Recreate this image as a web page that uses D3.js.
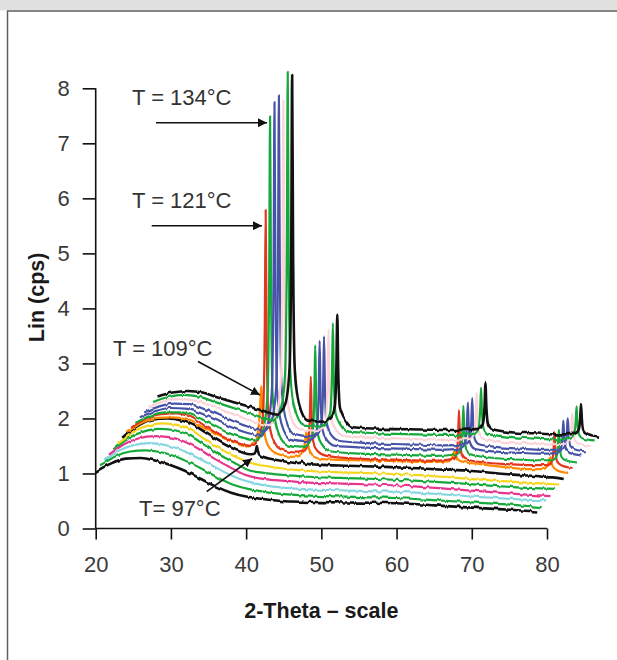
<!DOCTYPE html>
<html>
<head>
<meta charset="utf-8">
<script src="https://cdn.jsdelivr.net/npm/d3@7"></script>
<style>
  html, body { margin: 0; padding: 0; background: #fff; }
  svg { display: block; }
  text { font-family: "Liberation Sans", Arial, Helvetica, sans-serif; }
</style>
</head>
<body>
<svg id="chart" width="617" height="660"></svg>
<script>
// 2-Theta positions (degrees) of the sampled points
const thetaAmorphous = [20, 21, 22, 24, 26, 28, 30, 32, 34, 36, 38, 40, 42, 44, 46, 50, 55, 60, 65, 70, 75, 78.7];
const thetaCrystal = [20, 22, 24, 26, 28, 30, 32, 34, 36,
  37.0, 37.55, 37.78, 37.9, 38.02, 38.25, 38.8,
  40, 42,
  43.0, 43.55, 43.78, 43.9, 44.02, 44.25, 44.8,
  46, 50, 55, 60,
  62.7, 63.25, 63.48, 63.6, 63.72, 63.95, 64.5,
  67, 70, 73,
  75.4, 75.95, 76.18, 76.3, 76.42, 76.65, 77.2,
  78.7];

// Intensity (Lin, cps) of each scan, lowest temperature first
const scan01 = [1.03, 1.11, 1.18, 1.27, 1.28, 1.23, 1.15, 1.04, 0.90, 0.76, 0.65, 0.58, 0.54, 0.51, 0.49, 0.48, 0.47, 0.46, 0.42, 0.38, 0.34, 0.31];
const scan02 = [1.05, 1.13, 1.21, 1.30, 1.32, 1.29, 1.21, 1.09, 0.95, 0.80, 0.68, 0.61, 0.56, 0.53, 0.51, 0.49, 0.47, 0.45, 0.41, 0.37, 0.33, 0.29];
const scan03 = [1.04, 1.13, 1.22, 1.32, 1.35, 1.32, 1.24, 1.11, 0.97, 0.82, 0.70, 0.62, 0.57, 0.54, 0.52, 0.50, 0.48, 0.46, 0.42, 0.37, 0.33, 0.31];
const scan04 = [1.04, 1.14, 1.23, 1.34, 1.38, 1.36, 1.28, 1.14, 0.97, 0.82, 0.68, 0.61, 0.58, 0.56, 0.54, 0.52, 0.50, 0.47, 0.42, 0.37, 0.32, 0.29];
const scan05 = [1.04, 1.14, 1.24, 1.36, 1.41, 1.39, 1.30, 1.13, 0.95, 0.80, 0.66, 0.61, 0.58, 0.56, 0.54, 0.52, 0.50, 0.47, 0.43, 0.38, 0.34, 0.32];
const scan06 = [1.04, 1.14, 1.25, 1.37, 1.41, 1.38, 1.27, 1.08, 0.92, 0.78, 0.68, 0.63, 0.59, 0.56, 0.54, 0.52, 0.50, 0.47, 0.42, 0.37, 0.33, 0.30];
const scan07 = [1.05, 1.26, 1.38, 1.40, 1.36, 1.24, 1.06, 0.90, 0.78,
  0.75, 0.76, 0.82, 0.90, 0.82, 0.74, 0.70, 0.66, 0.61,
  0.59, 0.59, 0.60, 0.61, 0.60, 0.58, 0.57, 0.56, 0.54, 0.52, 0.49,
  0.47, 0.47, 0.47, 0.48, 0.47, 0.46, 0.46, 0.44, 0.40, 0.37,
  0.35, 0.34, 0.34, 0.35, 0.34, 0.33, 0.33, 0.30];
const scan08 = [1.04, 1.22, 1.31, 1.32, 1.28, 1.15, 1.00, 0.88, 0.79,
  0.86, 1.14, 1.60, 1.89, 1.57, 1.11, 0.81, 0.66, 0.60,
  0.62, 0.74, 0.94, 1.06, 0.93, 0.73, 0.61, 0.56, 0.54, 0.53, 0.51,
  0.52, 0.58, 0.66, 0.72, 0.66, 0.57, 0.52, 0.47, 0.42, 0.38,
  0.38, 0.44, 0.54, 0.60, 0.53, 0.43, 0.36, 0.31];
const scan09 = [1.03, 1.20, 1.28, 1.29, 1.22, 1.05, 0.88, 0.76, 0.70,
  0.85, 1.28, 2.84, 4.99, 2.84, 1.28, 0.85, 0.63, 0.58,
  0.61, 0.75, 1.26, 1.96, 1.26, 0.75, 0.61, 0.52, 0.47, 0.45, 0.43,
  0.46, 0.55, 0.89, 1.35, 0.89, 0.55, 0.46, 0.40, 0.37, 0.35,
  0.35, 0.42, 0.64, 0.95, 0.64, 0.42, 0.35, 0.30];
const scan10 = [1.02, 1.15, 1.21, 1.21, 1.14, 1.00, 0.86, 0.76, 0.70,
  0.91, 1.50, 3.64, 6.61, 3.64, 1.50, 0.91, 0.62, 0.57,
  0.63, 0.81, 1.49, 2.43, 1.49, 0.81, 0.63, 0.50, 0.46, 0.44, 0.42,
  0.45, 0.54, 0.87, 1.33, 0.87, 0.54, 0.45, 0.39, 0.36, 0.34,
  0.34, 0.40, 0.62, 0.91, 0.62, 0.40, 0.34, 0.30];
const scan11 = [1.02, 1.13, 1.19, 1.18, 1.10, 0.98, 0.85, 0.75, 0.69,
  0.90, 1.51, 3.70, 6.73, 3.70, 1.51, 0.90, 0.61, 0.57,
  0.62, 0.81, 1.48, 2.41, 1.48, 0.81, 0.62, 0.50, 0.47, 0.45, 0.43,
  0.45, 0.54, 0.85, 1.28, 0.85, 0.54, 0.45, 0.40, 0.38, 0.36,
  0.37, 0.44, 0.66, 0.96, 0.66, 0.44, 0.37, 0.33];
const scan12 = [1.01, 1.12, 1.17, 1.16, 1.07, 0.96, 0.84, 0.74, 0.68,
  0.89, 1.51, 3.71, 6.77, 3.71, 1.51, 0.89, 0.60, 0.56,
  0.61, 0.80, 1.47, 2.39, 1.47, 0.80, 0.61, 0.49, 0.45, 0.43, 0.41,
  0.43, 0.52, 0.84, 1.27, 0.84, 0.52, 0.43, 0.38, 0.35, 0.33,
  0.34, 0.40, 0.61, 0.90, 0.61, 0.40, 0.34, 0.30];
const scan13 = [1.01, 1.11, 1.15, 1.13, 1.05, 0.94, 0.84, 0.74, 0.68,
  0.88, 1.47, 3.61, 6.57, 3.61, 1.47, 0.88, 0.59, 0.56,
  0.62, 0.80, 1.48, 2.42, 1.48, 0.80, 0.62, 0.48, 0.45, 0.43, 0.41,
  0.43, 0.52, 0.83, 1.26, 0.83, 0.52, 0.43, 0.38, 0.35, 0.33,
  0.34, 0.40, 0.60, 0.88, 0.60, 0.40, 0.34, 0.30];
const scan14 = [1.00, 1.09, 1.13, 1.10, 1.01, 0.92, 0.83, 0.74, 0.67,
  0.88, 1.52, 3.82, 7.00, 3.82, 1.52, 0.88, 0.57, 0.55,
  0.61, 0.80, 1.49, 2.45, 1.49, 0.80, 0.61, 0.46, 0.43, 0.41, 0.40,
  0.42, 0.51, 0.83, 1.26, 0.83, 0.51, 0.42, 0.37, 0.34, 0.32,
  0.33, 0.40, 0.62, 0.92, 0.62, 0.40, 0.33, 0.30];
const scan15 = [1.00, 1.07, 1.10, 1.07, 0.98, 0.90, 0.82, 0.74, 0.67,
  0.87, 1.49, 3.73, 6.84, 3.73, 1.49, 0.87, 0.56, 0.54,
  0.60, 0.80, 1.51, 2.49, 1.51, 0.80, 0.60, 0.44, 0.41, 0.40, 0.39,
  0.41, 0.50, 0.81, 1.24, 0.81, 0.50, 0.41, 0.35, 0.33, 0.31,
  0.32, 0.38, 0.58, 0.86, 0.58, 0.38, 0.32, 0.27];

const scanColors = ["#111111", "#15a83a", "#86d6e2", "#e8358e", "#15a83a", "#f6d61c", "#111111",
  "#ff8a00", "#e4361b", "#15a83a", "#4653a6", "#4653a6", "#fcd3d6", "#15a83a", "#111111"];

// Waterfall offset between consecutive scans
const stepTheta = 0.587;
const stepLin = 0.1;

const yTicks = [0, 1, 2, 3, 4, 5, 6, 7, 8];
const yMinorTicks = [0.5, 1.5, 2.5, 3.5, 4.5, 5.5, 6.5, 7.5];
const xTicks = [20, 30, 40, 50, 60, 70, 80];
const xMinorTicks = [25, 35, 45, 55, 65, 75];

const scans = [scan01, scan02, scan03, scan04, scan05, scan06, scan07, scan08,
  scan09, scan10, scan11, scan12, scan13, scan14, scan15];

const svg = d3.select("#chart");

// Window frame
svg.append("rect").attr("x", 0).attr("y", 0).attr("width", 617).attr("height", 10.5).attr("fill", "#e1e1e1");
svg.append("line").attr("x1", 7).attr("x2", 617).attr("y1", 11).attr("y2", 11)
  .attr("stroke", "#5f5f5f").attr("stroke-width", 1.5);
svg.append("line").attr("x1", 7.5).attr("x2", 7.5).attr("y1", 11).attr("y2", 660)
  .attr("stroke", "#5f5f5f").attr("stroke-width", 1.5);

const x = d3.scaleLinear().domain([20, 80]).range([95.7, 547]);
const y = d3.scaleLinear().domain([0, 8]).range([528.5, 88.3]);

// Defs: noise texture on the traces and arrow heads
const defs = svg.append("defs");
const f = defs.append("filter").attr("id", "jitter")
  .attr("filterUnits", "userSpaceOnUse")
  .attr("x", 0).attr("y", 0).attr("width", 617).attr("height", 660)
  .attr("color-interpolation-filters", "sRGB");
f.append("feTurbulence").attr("type", "fractalNoise").attr("baseFrequency", "0.22 0.015")
  .attr("numOctaves", 2).attr("seed", 7).attr("result", "noise");
f.append("feColorMatrix").attr("in", "noise").attr("type", "matrix")
  .attr("values", "0 0 0 0 0.5  0 1 0 0 0  0 0 0 0 0  0 0 0 0 1").attr("result", "map");
f.append("feDisplacementMap").attr("in", "SourceGraphic").attr("in2", "map")
  .attr("scale", 4).attr("xChannelSelector", "R").attr("yChannelSelector", "G");

defs.append("marker").attr("id", "head").attr("viewBox", "0 0 10 10")
  .attr("refX", 10).attr("refY", 5).attr("markerWidth", 9).attr("markerHeight", 9)
  .attr("markerUnits", "userSpaceOnUse").attr("orient", "auto")
  .append("path").attr("d", "M0,0 L10,5 L0,10 Z").attr("fill", "#111");

// Axes
const gx = svg.append("g").attr("transform", `translate(0,${y(0)})`);
gx.call(d3.axisBottom(x).tickValues(xMinorTicks).tickSize(7).tickFormat(""));
gx.call(d3.axisBottom(x).tickValues(xTicks).tickSize(11).tickPadding(17).tickFormat(d3.format("d")));

const gy = svg.append("g").attr("transform", `translate(${x(20)},0)`);
gy.call(d3.axisLeft(y).tickValues(yMinorTicks).tickSize(11).tickFormat(""));
gy.call(d3.axisLeft(y).tickValues(yTicks).tickSize(13).tickPadding(13).tickFormat(d3.format("d")));

[gx, gy].forEach(g => {
  g.selectAll(".domain").attr("stroke", "#111").attr("stroke-width", 1.6);
  g.selectAll(".tick line").attr("stroke", "#111").attr("stroke-width", 1.6);
  g.selectAll(".tick text").attr("font-size", 22).attr("fill", "#3a3a3a")
    .attr("font-family", "'Liberation Sans', Arial, sans-serif");
});
gy.selectAll(".domain").attr("d", `M0,${y(8)}V${y(0)}`);
gx.selectAll(".domain").attr("d", `M${x(20)},0H${x(80)}`);

// Axis titles
svg.append("text").attr("x", (x(20) + x(80)) / 2).attr("y", 618)
  .attr("text-anchor", "middle").attr("font-size", 21.5).attr("font-weight", "bold")
  .attr("fill", "#1a1a1a").text("2-Theta – scale");
svg.append("text").attr("transform", `translate(44,${y(4.2)}) rotate(-90)`)
  .attr("text-anchor", "middle").attr("font-size", 21.5).attr("font-weight", "bold")
  .attr("fill", "#1a1a1a").text("Lin (cps)");

// Stacked scans
const traces = svg.append("g").attr("filter", "url(#jitter)");
scans.forEach((vals, i) => {
  const grid = vals.length === thetaCrystal.length ? thetaCrystal : thetaAmorphous;
  const pts = grid.map((t, k) => [t, vals[k]]);
  const line = d3.line()
    .x(d => x(d[0] + i * stepTheta))
    .y(d => y(d[1] + i * stepLin))
    .curve(d3.curveMonotoneX);
  traces.append("path").attr("d", line(pts)).attr("fill", "none")
    .attr("stroke", scanColors[i])
    .attr("stroke-width", scanColors[i] === "#111111" ? 2.6 : 2.2)
    .attr("stroke-linejoin", "round");
});

// Temperature labels with arrows
const labelFont = 22;
function label(txt, tx, ty) {
  svg.append("text").attr("x", tx).attr("y", ty).attr("font-size", labelFont)
    .attr("fill", "#333").text(txt);
}
function arrow(x1, y1, x2, y2) {
  svg.append("line").attr("x1", x1).attr("y1", y1).attr("x2", x2).attr("y2", y2)
    .attr("stroke", "#111").attr("stroke-width", 1.6).attr("marker-end", "url(#head)");
}
label("T = 134°C", 132, 105);
arrow(156, 122.7, 267, 122.7);
label("T = 121°C", 132, 207.5);
arrow(151.7, 225.7, 262, 225.7);
label("T = 109°C", 113, 356);
arrow(198, 361.5, 260, 395);
label("T= 97°C", 139, 516);
arrow(206.7, 491.7, 252, 458.5);
</script>
</body>
</html>
